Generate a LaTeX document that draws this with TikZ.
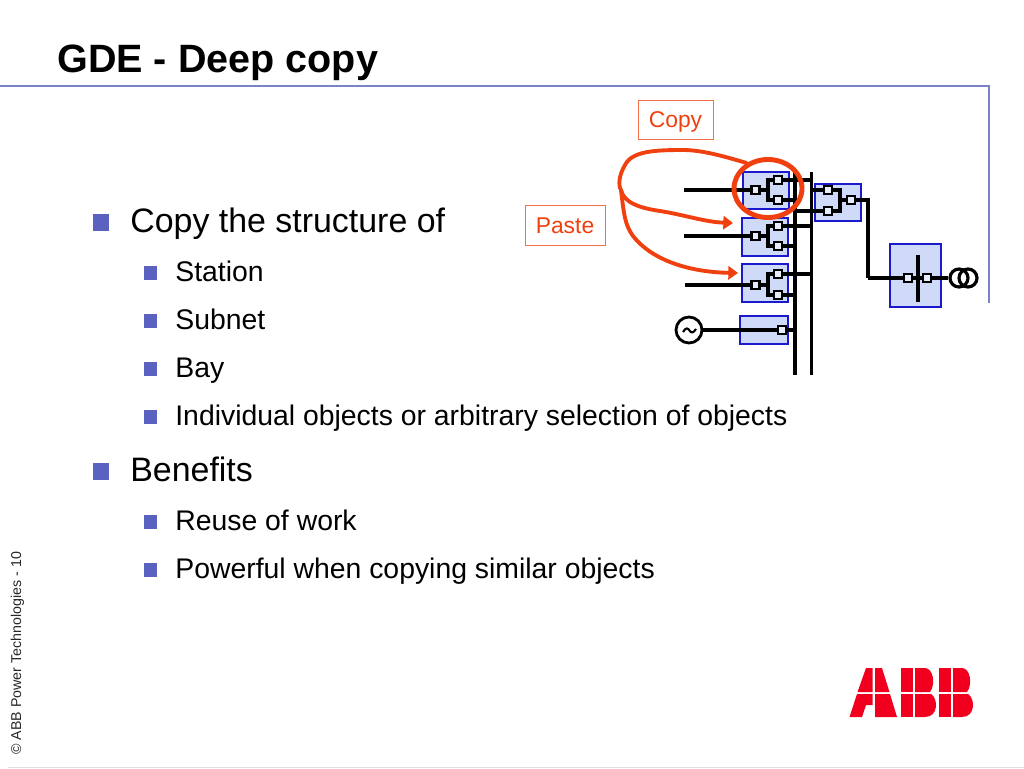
\documentclass[tikz,border=0pt]{standalone}
\usepackage{fontspec}
\usetikzlibrary{shapes.geometric,arrows.meta}
\setmainfont{Liberation Sans}
\definecolor{rulecol}{HTML}{7C82C8}
\definecolor{bulletcol}{HTML}{5A62C0}
\definecolor{baycol}{HTML}{CFD9F8}
\definecolor{bayline}{HTML}{1A1ACC}
\definecolor{markcol}{HTML}{F0400F}
\definecolor{logocol}{HTML}{F0001E}
\tikzset{
  titletext/.style={anchor=base west,inner sep=0pt,font=\fontsize{22.5}{24}\bfseries\selectfont},
  bigtext/.style={anchor=base west,inner sep=0pt,font=\fontsize{19.3}{22}\selectfont},
  smalltext/.style={anchor=base west,inner sep=0pt,font=\fontsize{16.15}{20}\selectfont},
  footertext/.style={anchor=base west,inner sep=0pt,rotate=90,font=\fontsize{8.1}{10}\selectfont,text=black!85},
  bigbullet/.style={fill=bulletcol,inner sep=0pt,minimum size=16.5*0.02cm},
  smallbullet/.style={fill=bulletcol,inner sep=0pt,minimum size=13.5*0.02cm},
  baybox/.style={draw=bayline,fill=baycol,line width=0.7pt},
  switchbox/.style={draw=black,fill=baycol!50,line width=1.3pt,inner sep=0pt,minimum size=8*0.02cm},
  wire/.style={draw=black,line width=1.75pt},
  labelbox/.style={draw=markcol!75,text=markcol,line width=0.4pt,inner sep=0pt,text height=9.3pt,text depth=0pt,font=\fontsize{13}{15}\selectfont},
  marker/.style={draw=markcol,line width=2.2pt,line cap=round},
}
\begin{document}
\begin{tikzpicture}[x=0.02cm,y=-0.02cm]
  \useasboundingbox (0,0) rectangle (1024,768);

  % Frame
  \coordinate (railstart) at (0,86);
  \coordinate (railcorner) at (989,86);
  \coordinate (railend) at (989,303);
  \draw[rulecol,line width=1.5pt] (railstart) -- (railcorner) -- (railend);
  \coordinate (floorstart) at (8,767);
  \coordinate (floorend) at (1024,767);
  \draw[black!12,line width=0.4pt] (floorstart) -- (floorend);

  % Text
  \node[titletext] (title) at (57,72) {GDE - Deep copy};
  \node[bigbullet] (b1) at (101,222.5) {};
  \node[bigtext] (t1) at (130,232) {Copy the structure of};
  \node[smallbullet] (b2) at (150.5,273) {};
  \node[smalltext] (t2) at (175,281) {Station};
  \node[smallbullet] (b3) at (150.5,321) {};
  \node[smalltext] (t3) at (175,329) {Subnet};
  \node[smallbullet] (b4) at (150.5,369) {};
  \node[smalltext] (t4) at (175,377) {Bay};
  \node[smallbullet] (b5) at (150.5,417) {};
  \node[smalltext] (t5) at (175,425) {Individual objects or arbitrary selection of objects};
  \node[bigbullet] (b6) at (101,471.5) {};
  \node[bigtext] (t6) at (130,481) {Benefits};
  \node[smallbullet] (b7) at (150.5,522) {};
  \node[smalltext] (t7) at (175,530) {Reuse of work};
  \node[smallbullet] (b8) at (150.5,570) {};
  \node[smalltext] (t8) at (175,578) {Powerful when copying similar objects};
  \node[footertext] (footer) at (21,755) {© ABB Power Technologies - 10};

  % Bays
  \filldraw[baybox] (743,172) rectangle (789,209);
  \filldraw[baybox] (742,218) rectangle (788,256);
  \filldraw[baybox] (742,264) rectangle (788,302);
  \filldraw[baybox] (740,316) rectangle (788,344);
  \filldraw[baybox] (815,184) rectangle (861,221);
  \filldraw[baybox] (890,244) rectangle (941,307);

  % Busbars
  \coordinate (busa top) at (795,172);
  \coordinate (busa end) at (795,375);
  \coordinate (busb top) at (811.5,172);
  \coordinate (busb end) at (811.5,375);
  \draw[wire] (busa top) -- (busa end);
  \draw[wire] (busb top) -- (busb end);

  % Wire ends
  \coordinate (in1) at (684,190);
  \coordinate (in2) at (684,236);
  \coordinate (in3) at (685,285);
  \coordinate (fork1) at (768,190);
  \coordinate (fork2) at (768,236);
  \coordinate (fork3) at (768,285);
  \coordinate (fork5) at (840,200);
  \coordinate (bus1) at (811.5,180);
  \coordinate (bus2) at (795,200);
  \coordinate (bus3) at (811.5,226);
  \coordinate (bus4) at (795,246);
  \coordinate (bus5) at (811.5,274);
  \coordinate (bus6) at (795,295);
  \coordinate (bus7) at (795,330);
  \coordinate (bus8) at (811.5,190);
  \coordinate (bus9) at (795,211);
  \coordinate (bend1) at (868,200);
  \coordinate (bend2) at (868,278);
  \coordinate (tick top) at (918,255);
  \coordinate (tick end) at (918,302);

  % Wires
  \draw[wire] (in1) -- (fork1);
  \draw[wire] (in2) -- (fork2);
  \draw[wire] (in3) -- (fork3);
  \draw[wire] (fork1) |- (bus1);
  \draw[wire] (fork1) |- (bus2);
  \draw[wire] (fork2) |- (bus3);
  \draw[wire] (fork2) |- (bus4);
  \draw[wire] (fork3) |- (bus5);
  \draw[wire] (fork3) |- (bus6);
  \draw[wire] (bus8) -| (fork5);
  \draw[wire] (bus9) -| (fork5);
  \draw[wire] (fork5) -- (bend1) -- (bend2);
  \draw[wire] (tick top) -- (tick end);

  % Generator and transformer
  \node[circle,draw=black,line width=1.6pt,fill=white,minimum size=26*0.02cm,inner sep=0pt] (gen) at (689,330) {};
  \draw[line width=1.2pt] (683,332) .. controls (686,327) and (688,328) .. (689.5,330.5) .. controls (691,333) and (693,333.5) .. (696,329);
  \node[circle,draw=black,line width=1.8pt,minimum size=18*0.02cm,inner sep=0pt] (tra) at (959,278) {};
  \node[circle,draw=black,line width=1.8pt,minimum size=18*0.02cm,inner sep=0pt] (trb) at (968,278) {};
  \draw[wire] (gen) -- (bus7);
  \draw[wire] (bend2) -- (tra);

  % Switches
  \node[switchbox] (s1) at (755.5,190) {};
  \node[switchbox] (s2) at (778,180) {};
  \node[switchbox] (s3) at (778,200) {};
  \node[switchbox] (s4) at (755.5,236) {};
  \node[switchbox] (s5) at (778,226) {};
  \node[switchbox] (s6) at (778,246) {};
  \node[switchbox] (s7) at (755.5,285) {};
  \node[switchbox] (s8) at (778,274) {};
  \node[switchbox] (s9) at (778,295) {};
  \node[switchbox] (s10) at (782,330) {};
  \node[switchbox] (s11) at (828,190) {};
  \node[switchbox] (s12) at (828,211) {};
  \node[switchbox] (s13) at (851,200) {};
  \node[switchbox] (s14) at (908,278) {};
  \node[switchbox] (s15) at (927,278) {};

  % Labels
  \node[labelbox,minimum width=75*0.02cm,minimum height=39*0.02cm] (copy) at (675.5,119.5) {Copy};
  \node[labelbox,minimum width=80*0.02cm,minimum height=40*0.02cm] (paste) at (565,225) {Paste};

  % Red marks
  \node[ellipse,marker,line width=2.8pt,minimum width=68*0.02cm,minimum height=58*0.02cm,inner sep=0pt] (ring) at (768,188.5) {};
  \coordinate (split) at (621,190);
  \coordinate (tipa) at (733,223);
  \coordinate (tipb) at (738,273);
  \draw[marker] (ring.130) .. controls (720,155) and (700,150) .. (683,150)
    .. controls (655,150) and (632,151) .. (625,165)
    .. controls (619,175) and (618,185) .. (split);
  \draw[marker,-{Triangle[length=5.5pt,width=7.5pt]}] (split) .. controls (624,203) and (640,208) .. (660,211)
    .. controls (685,215) and (705,222) .. (tipa);
  \draw[marker,-{Triangle[length=5.5pt,width=7.5pt]}] (split) .. controls (624,215) and (625,225) .. (633,236)
    .. controls (650,258) and (685,272) .. (tipb);

  % Logo
  \fill[logocol] (857.5,692) -- (866,668) -- (872.5,668) -- (872.5,692) -- cycle;
  \fill[logocol] (849.5,717) -- (857,694) -- (872.5,694) -- (872.5,705) -- (866,705) -- (862,717) -- cycle;
  \fill[logocol] (875,668) -- (882,668) -- (889.5,692) -- (875,692) -- cycle;
  \fill[logocol] (875,694) -- (890,694) -- (897,717) -- (875,717) -- cycle;
  \fill[logocol] (901,668) rectangle (913,692);
  \fill[logocol] (901,694) rectangle (913,717);
  \fill[logocol] (915,668) -- (925,668) .. controls (933,668) and (936,684) .. (930,692) -- (915,692) -- cycle;
  \fill[logocol] (915,694) -- (931,694) .. controls (938,698) and (939,717) .. (925,717) -- (915,717) -- cycle;
  \fill[logocol] (939,668) rectangle (951,692);
  \fill[logocol] (939,694) rectangle (951,717);
  \fill[logocol] (953,668) -- (962,668) .. controls (970,668) and (973,684) .. (967,692) -- (953,692) -- cycle;
  \fill[logocol] (953,694) -- (968,694) .. controls (975,698) and (976,717) .. (962,717) -- (953,717) -- cycle;
\end{tikzpicture}
\end{document}
